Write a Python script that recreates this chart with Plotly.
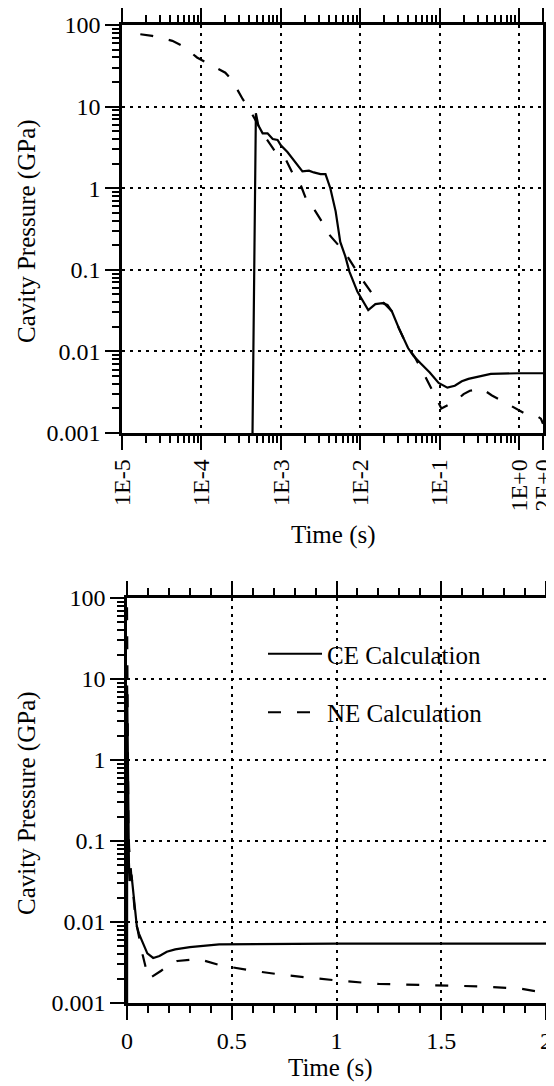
import plotly.graph_objects as go

# ---------------- data (time in s, pressure in GPa) ----------------
ce_time = [4.4e-4, 4.85e-4, 5.2e-4, 5.9e-4, 6.8e-4, 7.9e-4, 9.1e-4, 1.0e-3, 1.21e-3, 1.4e-3,
           1.62e-3, 1.87e-3, 2.26e-3, 2.6e-3, 3.16e-3, 3.65e-3, 4.2e-3, 4.9e-3, 5.6e-3, 6.5e-3,
           7.3e-3, 9.2e-3, 1.26e-2, 1.55e-2, 1.9e-2, 2.2e-2, 2.5e-2, 3.06e-2, 4.0e-2, 4.7e-2,
           5.7e-2, 7.5e-2, 0.097, 0.125, 0.155, 0.19, 0.23, 0.3, 0.44, 1.0, 2.0]
ce_pressure = [0.001, 8.3, 5.9, 4.7, 4.7, 4.0, 3.9, 3.35, 2.77, 2.29,
               1.9, 1.61, 1.64, 1.56, 1.49, 1.49, 1.0, 0.52, 0.22, 0.145,
               0.095, 0.054, 0.032, 0.038, 0.039, 0.037, 0.031, 0.0193, 0.011, 0.0088,
               0.0072, 0.0055, 0.0041, 0.0036, 0.0038, 0.0043, 0.0046, 0.0049, 0.0053, 0.0054, 0.0054]

ne_time = [1.7e-5, 2.4e-5, 4.3e-5, 5.9e-5, 8.8e-5, 1.22e-4, 2.0e-4, 2.44e-4, 3.3e-4, 3.9e-4,
           6.0e-4, 8.6e-4, 1.14e-3, 1.46e-3, 1.78e-3, 2.24e-3, 2.6e-3, 3.65e-3, 4.2e-3, 6.5e-3,
           1.0e-2, 1.55e-2, 2.0e-2, 2.5e-2, 3.06e-2, 4.0e-2, 4.8e-2, 6.4e-2, 7.4e-2, 0.09,
           0.105, 0.163, 0.2, 0.24, 0.34, 0.45, 0.6, 0.76, 0.9, 1.0,
           1.2, 1.45, 1.7, 1.88, 1.95, 2.0]
ne_pressure = [77, 73.6, 64, 55, 40, 34, 26, 21, 12.4, 9.8,
               4.6, 2.75, 2.3, 1.42, 1.09, 0.61, 0.56, 0.33, 0.26, 0.16,
               0.082, 0.045, 0.039, 0.031, 0.0193, 0.011, 0.0087, 0.0052, 0.004, 0.0027,
               0.002, 0.0025, 0.003, 0.0033, 0.0035, 0.0029, 0.0025, 0.0022, 0.002, 0.0019,
               0.00172, 0.00166, 0.0016, 0.0015, 0.0014, 0.0013]

y_tickvals = [0.001, 0.01, 0.1, 1, 10, 100]
y_ticktext = ["0.001", "0.01", "0.1", "1", "10", "100"]
logx_tickvals = [1e-5, 1e-4, 1e-3, 1e-2, 1e-1, 1, 2]
logx_ticktext = ["1E-5", "1E-4", "1E-3", "1E-2", "1E-1", "1E+0", "2E+0"]
linx_tickvals = [0, 0.5, 1, 1.5, 2]
linx_ticktext = ["0", "0.5", "1", "1.5", "2"]

# ---------------- styling ----------------
W, H = 554, 1086
FONT = "Liberation Serif"
FS = 24
GRID_DASH = "2.5px,5.5px"
OFF = 8  # page body margin of the rendered html

def px_x(p):
    return (p - OFF) / W

def px_y(p):
    return 1 - (p - OFF) / H

top_x = [px_x(122), px_x(543)]
top_y = [px_y(433), px_y(25)]
bot_x = [px_x(127), px_x(546)]
bot_y = [px_y(1003), px_y(598)]

y_minor = [m * 10 ** e for e in range(-3, 2) for m in range(2, 10)]
x_minor_log = [m * 10 ** e for e in range(-5, 1) for m in range(2, 10) if m * 10 ** e < 2]

common = dict(showline=True, linecolor="black", linewidth=2.5, mirror="allticks",
              ticks="outside", ticklen=14, tickwidth=2, tickcolor="black",
              showgrid=True, gridcolor="black", gridwidth=2, griddash=GRID_DASH,
              zeroline=False, automargin=False,
              tickfont=dict(family=FONT, size=FS, color="black"))

minor_common = dict(ticks="outside", ticklen=7, tickwidth=1.5, tickcolor="black", showgrid=False)

fig = go.Figure()

line_ce = dict(color="black", width=2.2)
line_ne = dict(color="black", width=2.2, dash="13px,16px")

fig.add_trace(go.Scatter(x=ce_time, y=ce_pressure, mode="lines", line=line_ce,
                         xaxis="x", yaxis="y", showlegend=False))
fig.add_trace(go.Scatter(x=ne_time, y=ne_pressure, mode="lines", line=line_ne,
                         xaxis="x", yaxis="y", showlegend=False))
fig.add_trace(go.Scatter(x=ce_time, y=ce_pressure, mode="lines", line=line_ce,
                         xaxis="x2", yaxis="y2", name="CE Calculation",
                         legendgroup="ce"))
fig.add_trace(go.Scatter(x=ne_time, y=ne_pressure, mode="lines", line=line_ne,
                         xaxis="x2", yaxis="y2", name="NE Calculation",
                         legendgroup="ne"))

title_font = dict(family=FONT, size=25, color="black")

def title_ann(text, x, y, angle=0):
    return dict(text=text, x=px_x(x), y=px_y(y), xref="paper", yref="paper",
                xanchor="center", yanchor="middle", textangle=angle,
                showarrow=False, font=title_font)

fig.update_layout(
    width=W, height=H,
    margin=dict(l=0, r=0, t=0, b=0, pad=0),
    paper_bgcolor="white", plot_bgcolor="white",
    font=dict(family=FONT, size=FS, color="black"),
    xaxis=dict(type="log", domain=top_x, anchor="y",
               range=[-5, 0.30103],
               tickmode="array", tickvals=logx_tickvals, ticktext=logx_ticktext,
               tickangle=-90,
               minor=dict(tickmode="array", tickvals=x_minor_log, **minor_common),
               **common),
    yaxis=dict(type="log", domain=top_y, anchor="x",
               range=[-3, 2],
               tickmode="array", tickvals=y_tickvals, ticktext=y_ticktext,
               minor=dict(tickmode="array", tickvals=y_minor, **minor_common),
               **common),
    xaxis2=dict(type="linear", domain=bot_x, anchor="y2",
                range=[0, 2],
                tickmode="array", tickvals=linx_tickvals, ticktext=linx_ticktext,
                minor=dict(dtick=0.1, **minor_common),
                **common),
    yaxis2=dict(type="log", domain=bot_y, anchor="x2",
                range=[-3, 2],
                tickmode="array", tickvals=y_tickvals, ticktext=y_ticktext,
                minor=dict(tickmode="array", tickvals=y_minor, **minor_common),
                **common),
    legend=dict(x=px_x(263), y=px_y(631), xanchor="left", yanchor="top",
                bgcolor="rgba(0,0,0,0)", borderwidth=0,
                font=dict(family=FONT, size=25, color="black"),
                tracegroupgap=23, itemwidth=54),
    annotations=[
        title_ann("Cavity Pressure (GPa)", 27, 231, -90),
        title_ann("Cavity Pressure (GPa)", 27, 803, -90),
        title_ann("Time (s)", 333, 535),
        title_ann("Time (s)", 330, 1068),
    ],
)

fig.write_html("out.html")
